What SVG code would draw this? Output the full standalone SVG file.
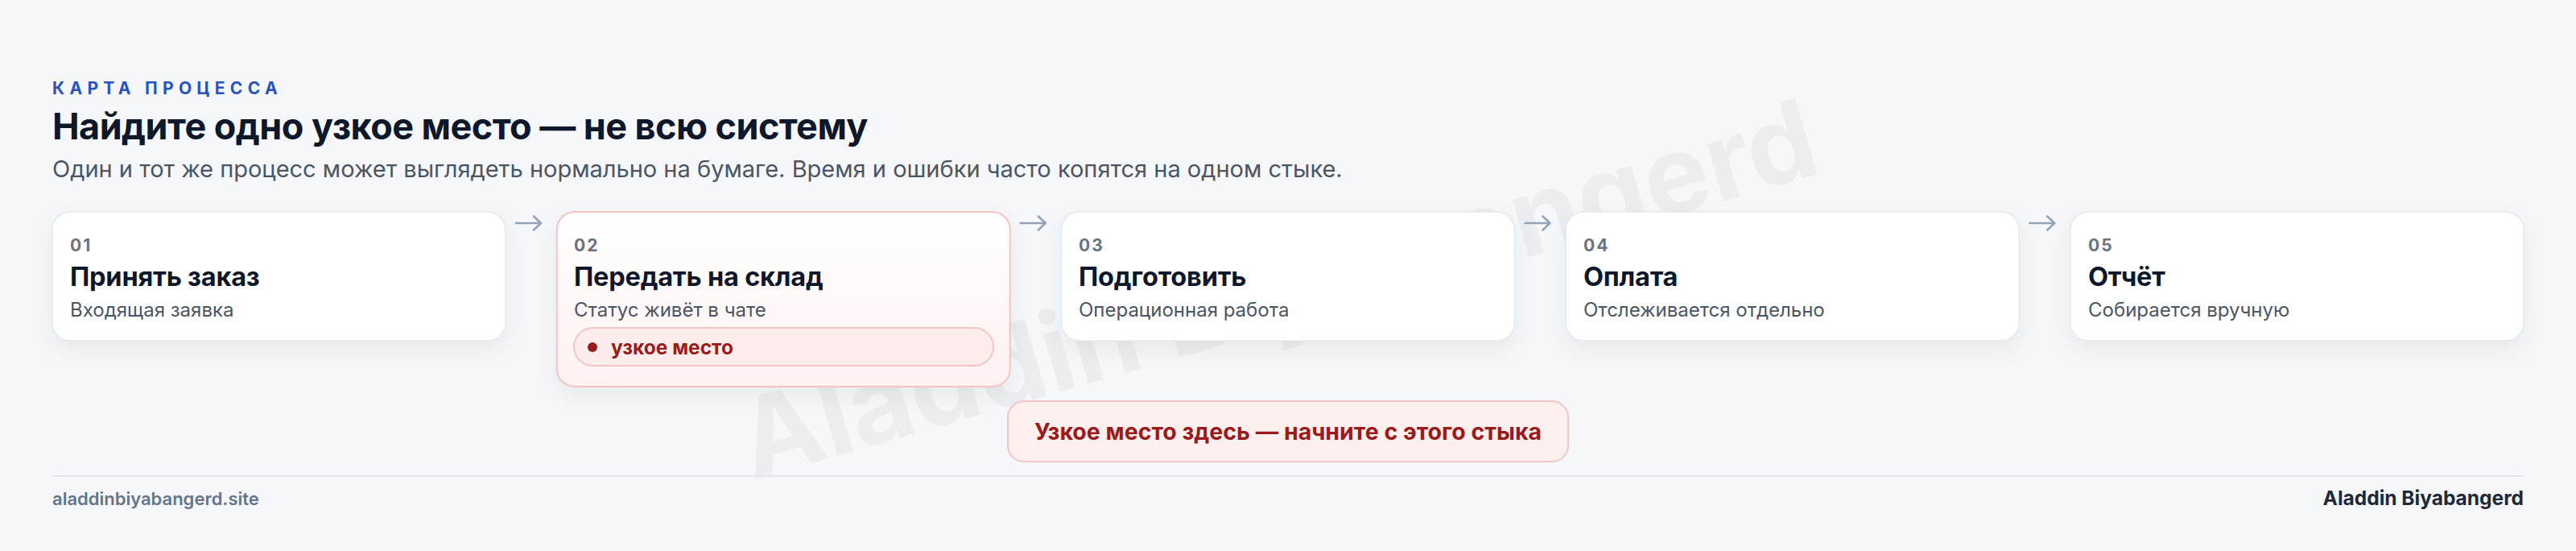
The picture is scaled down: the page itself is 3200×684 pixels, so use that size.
<svg xmlns="http://www.w3.org/2000/svg" width="3200" height="684" viewBox="0 0 3200 684">
<defs>
<style>
text{font-family:Inter,"Noto Sans","Liberation Sans",sans-serif}
.eyebrow{font-size:21px;font-weight:700;letter-spacing:6.3px;fill:#2a52be}
.title{font-size:45px;font-weight:700;letter-spacing:-0.55px;fill:#0f172a}
.lead{font-size:29px;font-weight:400;fill:#4b5563}
.card{fill:#ffffff;stroke:#e5e7eb;stroke-width:1.5}
.hot{fill:url(#hotg);stroke:#f3c4c4;stroke-width:2}
.num{font-size:21px;font-weight:700;letter-spacing:2px;fill:#6b7280}
.ctitle{font-size:32.5px;font-weight:700;letter-spacing:-0.2px;fill:#0f172a}
.csub{font-size:24px;font-weight:400;fill:#4b5563}
.badge{fill:#fdecec;stroke:#f3c4c4;stroke-width:2}
.btext{font-size:24.5px;font-weight:700;fill:#991b1b}
.arrow{fill:none;stroke:#94a3b8;stroke-width:2.6;stroke-linecap:round;stroke-linejoin:round}
.callout{fill:#fff0f0;stroke:#f3c4c4;stroke-width:2}
.ctext{font-size:28.5px;font-weight:700;fill:#991b1b}
.foot{font-size:22px;font-weight:600;fill:#64748b}
.footr{font-size:24.5px;font-weight:700;fill:#1f2937}
.wm{font-size:136px;font-weight:700;fill:#0f172a;fill-opacity:0.045}
</style>
<linearGradient id="hotg" x1="0" y1="0" x2="0" y2="1">
<stop offset="0" stop-color="#ffffff"/>
<stop offset="1" stop-color="#fff1f1"/>
</linearGradient>
<filter id="sh" x="-10%" y="-20%" width="120%" height="160%">
<feDropShadow dx="0" dy="10" stdDeviation="14" flood-color="#0f172a" flood-opacity="0.06"/>
</filter>
</defs>
<rect width="3200" height="684" fill="#f5f7fa"/>
<text class="wm" x="1600" y="405" text-anchor="middle" transform="rotate(-16 1600 405)">Aladdin Biyabangerd</text>
<g id="header">
<text class="eyebrow" x="65" y="117">КАРТА ПРОЦЕССА</text>
<text class="title" x="65" y="173">Найдите одно узкое место — не всю систему</text>
<text class="lead" x="65" y="220">Один и тот же процесс может выглядеть нормально на бумаге. Время и ошибки часто копятся на одном стыке.</text>
</g>
<g id="connectors">
<path class="arrow" d="M641 277H672M663 268.5L672 277L663 285.5"/>
<path class="arrow" d="M1267.75 277H1298.75M1289.75 268.5L1298.75 277L1289.75 285.5"/>
<path class="arrow" d="M1894.5 277H1925.5M1916.5 268.5L1925.5 277L1916.5 285.5"/>
<path class="arrow" d="M2521.25 277H2552.25M2543.25 268.5L2552.25 277L2543.25 285.5"/>
</g>
<g id="step1">
<rect class="card" x="65" y="263" width="563" height="160" rx="22" filter="url(#sh)"/>
<text class="num" x="87" y="312">01</text>
<text class="ctitle" x="87" y="355">Принять заказ</text>
<text class="csub" x="87" y="393">Входящая заявка</text>
</g>
<g id="step2">
<rect class="hot" x="691.75" y="263" width="563" height="217" rx="22" filter="url(#sh)"/>
<text class="num" x="713" y="312">02</text>
<text class="ctitle" x="713" y="355">Передать на склад</text>
<text class="csub" x="713" y="393">Статус живёт в чате</text>
<rect class="badge" x="713" y="407" width="521" height="47" rx="23.5"/>
<circle cx="736" cy="431" r="6" fill="#991b1b"/>
<text class="btext" x="759" y="440">узкое место</text>
</g>
<g id="step3">
<rect class="card" x="1318.5" y="263" width="563" height="160" rx="22" filter="url(#sh)"/>
<text class="num" x="1340" y="312">03</text>
<text class="ctitle" x="1340" y="355">Подготовить</text>
<text class="csub" x="1340" y="393">Операционная работа</text>
</g>
<g id="step4">
<rect class="card" x="1945.25" y="263" width="563" height="160" rx="22" filter="url(#sh)"/>
<text class="num" x="1967" y="312">04</text>
<text class="ctitle" x="1967" y="355">Оплата</text>
<text class="csub" x="1967" y="393">Отслеживается отдельно</text>
</g>
<g id="step5">
<rect class="card" x="2572" y="263" width="563" height="160" rx="22" filter="url(#sh)"/>
<text class="num" x="2594" y="312">05</text>
<text class="ctitle" x="2594" y="355">Отчёт</text>
<text class="csub" x="2594" y="393">Собирается вручную</text>
</g>
<g id="callout">
<rect class="callout" x="1252" y="498" width="696" height="75" rx="20"/>
<text class="ctext" x="1600" y="546" text-anchor="middle">Узкое место здесь — начните с этого стыка</text>
</g>
<g id="footer">
<line x1="65" y1="591" x2="3135" y2="591" stroke="#e2e6ea" stroke-width="2"/>
<text class="foot" x="65" y="627">aladdinbiyabangerd.site</text>
<text class="footr" x="3135" y="627" text-anchor="end">Aladdin Biyabangerd</text>
</g>
</svg>
